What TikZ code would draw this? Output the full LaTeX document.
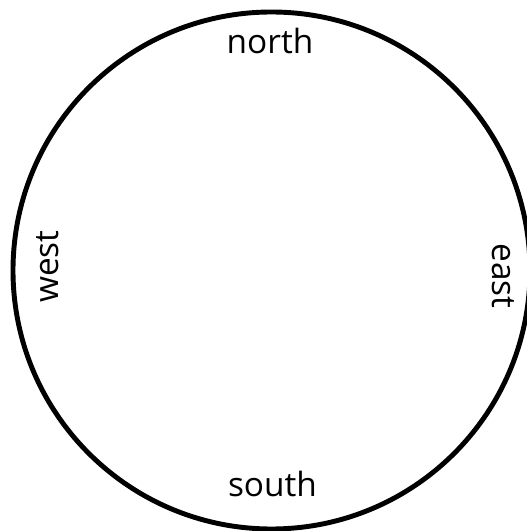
\documentclass[tikz,border=0pt]{standalone}
\usepackage{fontspec}
\setmainfont{Open Sans}

\begin{document}
\begin{tikzpicture}[scale=1]
\tikzset{dir/.style={font=\fontsize{19}{22}\selectfont, anchor=base, inner sep=0pt}}
\useasboundingbox (0,0) rectangle (10.54,10.62);
\clip (0,0) rectangle (10.54,10.62);
\coordinate (centre) at (5.43,5.21);
\draw [line width=2.8pt] (centre) circle [radius=5.17];
\node [dir] (n) at (5.40,9.54) {north};
\node [dir] (s) at (5.45,0.68) {south};
\node [dir, rotate=90] (w) at (1.16,5.29) {west};
\node [dir, rotate=-90] (e) at (9.84,5.10) {east};
\end{tikzpicture}
\end{document}
